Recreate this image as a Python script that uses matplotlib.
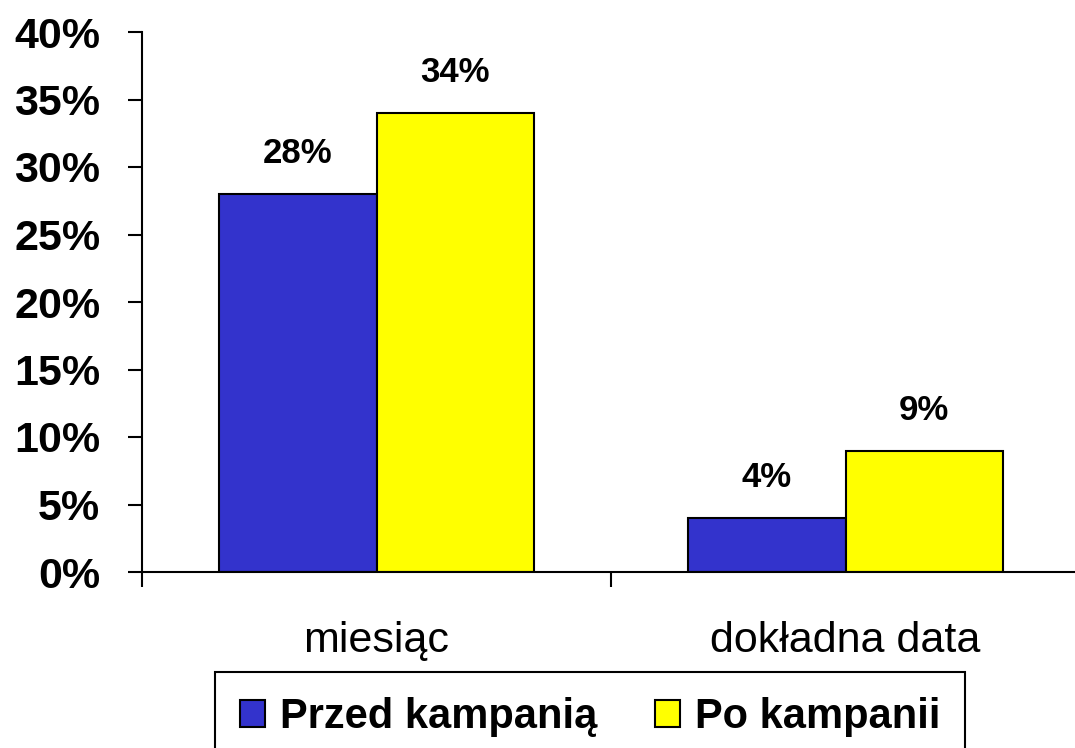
import matplotlib.pyplot as plt
import numpy as np

# dane
categories = ['miesiąc', 'dokładna data']
przed = [28, 4]
po = [34, 9]
series_names = ['Przed kampanią', 'Po kampanii']
yticks = [0, 5, 10, 15, 20, 25, 30, 35, 40]

plt.rcParams['font.family'] = ['Liberation Sans', 'DejaVu Sans']

fig = plt.figure(figsize=(10.75, 7.48), dpi=100)
ax = fig.add_axes([142 / 1075, 176 / 748, 938 / 1075, 540 / 748])

x = np.arange(len(categories))
w = 0.336
b1 = ax.bar(x - w / 2, przed, w, color='#3333CC', edgecolor='black', linewidth=1.5, label=series_names[0])
b2 = ax.bar(x + w / 2, po, w, color='#FFFF00', edgecolor='black', linewidth=1.5, label=series_names[1])

for bars, vals in [(b1, przed), (b2, po)]:
    for r, v in zip(bars, vals):
        ax.annotate(f'{v}%', (r.get_x() + r.get_width() / 2, v), xytext=(0, 17),
                    textcoords='offset points', ha='center', va='bottom',
                    fontsize=25, fontweight='bold')

ax.set_xlim(-0.5, 1.5)
ax.set_ylim(0, 40)
ax.set_yticks(yticks)
ax.set_yticklabels([f'{t}%' for t in yticks], fontsize=31, fontweight='bold')
ax.tick_params(axis='y', length=10, width=1.5, pad=20)

# etykiety kategorii bez kresek, kreski na granicach
ax.set_xticks(x)
ax.set_xticklabels(categories, fontsize=31)
ax.tick_params(axis='x', which='major', length=0, pad=35)
ax.set_xticks([-0.5, 0.5, 1.5], minor=True)
ax.tick_params(axis='x', which='minor', length=11, width=1.5, direction='out')

ax.spines['top'].set_visible(False)
ax.spines['right'].set_visible(False)
ax.spines['left'].set_linewidth(1.5)
ax.spines['bottom'].set_linewidth(1.5)

leg = fig.legend(loc='upper left', bbox_to_anchor=(215 / 1075, 1 - 672 / 748),
                 ncol=2, prop={'weight': 'bold', 'size': 30},
                 handlelength=0.6, handleheight=0.6, handletextpad=0.35,
                 columnspacing=1.4, borderpad=0.6, borderaxespad=0,
                 fancybox=False, edgecolor='black', framealpha=1)
leg.get_frame().set_linewidth(1.5)

fig.savefig('out.png', dpi=100)
